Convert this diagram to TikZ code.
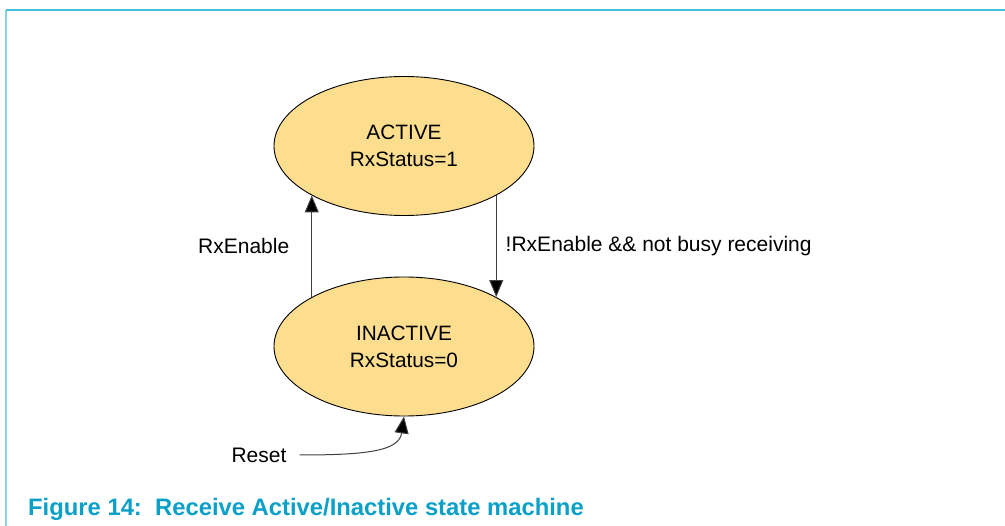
\documentclass[tikz,border=0pt]{standalone}
\usepackage{fontspec}
\setmainfont{Liberation Sans}
\usetikzlibrary{arrows.meta, positioning, shapes.geometric}
\definecolor{stateFill}{HTML}{FDDE8E}
\definecolor{frameCyan}{HTML}{45C0D8}
\definecolor{frameLight}{HTML}{86D2E2}
\definecolor{captionBlue}{HTML}{0AA0C8}
\definecolor{wireGray}{HTML}{404040}

\begin{document}
\begin{tikzpicture}[
    x=1pt, y=-1pt,
    state/.style={ellipse, draw=black, line width=0.9pt, fill=stateFill,
                  minimum width=260pt, minimum height=139pt, inner sep=0pt,
                  align=center, font=\fontsize{20.8}{27}\selectfont},
    lbl/.style={inner sep=0pt, font=\fontsize{21}{25}\selectfont},
    trans/.style={draw=wireGray, line width=1pt,
                  -{Triangle[length=17pt, width=14pt, fill=black]}},
  ]
    \useasboundingbox (0,0) rectangle (1005,526);
    % frame
    \draw[frameLight, line width=1.2pt] (6,10) -- (6,526);
    \draw[frameCyan, line width=1.6pt] (6,10) -- (1005,10);

    \node[state] (active) at (404,146) {ACTIVE\\RxStatus=1};
    \node[state] (inactive) at (404,346.5) {INACTIVE\\RxStatus=0};
    \node[lbl] (reset) at (259,455) {Reset};

    \draw[trans] (inactive.north west) -- (active.south west)
      node[lbl, midway, left=22pt] (enable) {RxEnable};
    \draw[trans] (active.south east) -- (inactive.north east)
      node[lbl, midway, right=9pt] (disable) {!RxEnable \&\& not busy receiving};
    \draw[trans] ([xshift=13pt]reset.east) .. controls +(65,0) and +(-5,35) .. (inactive.south);

    \node[anchor=base west, inner sep=0pt, text=captionBlue,
          font=\fontsize{23.8}{27}\selectfont\bfseries] (caption) at (28,516)
      {Figure 14:\ \ Receive Active/Inactive state machine};
  \end{tikzpicture}
\end{document}
